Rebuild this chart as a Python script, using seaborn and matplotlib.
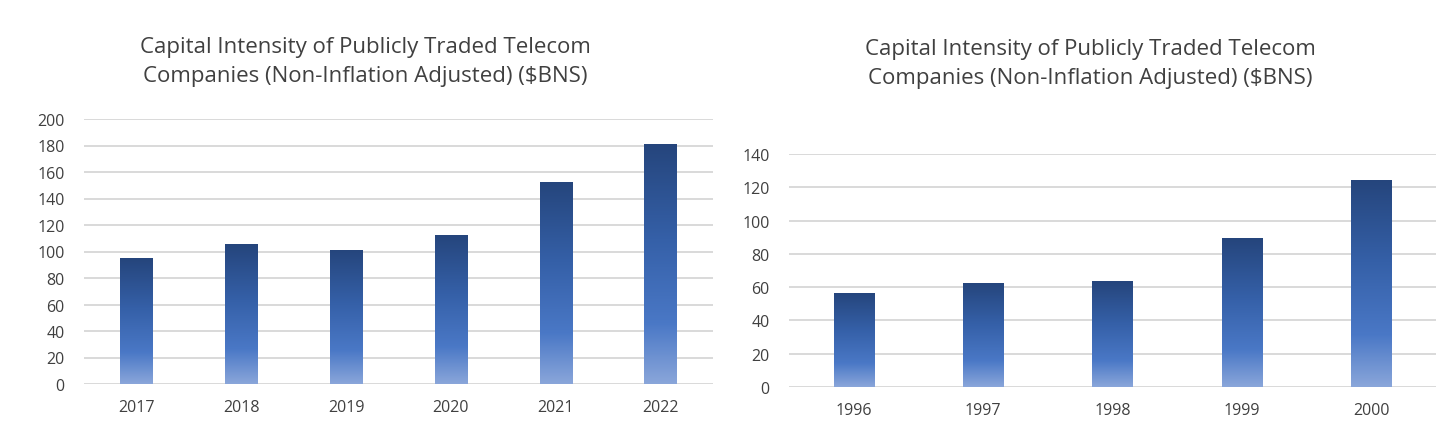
import matplotlib
matplotlib.use("Agg")
import matplotlib.pyplot as plt
import numpy as np
import seaborn as sns
from matplotlib.colors import LinearSegmentedColormap

TITLE = "Capital Intensity of Publicly Traded Telecom\nCompanies (Non-Inflation Adjusted) ($BNS)"

years_recent = ["2017", "2018", "2019", "2020", "2021", "2022"]
capex_recent = [95, 105.5, 101.5, 112.5, 152.5, 181.5]

years_dotcom = ["1996", "1997", "1998", "1999", "2000"]
capex_dotcom = [56.5, 62.5, 63.5, 89.5, 124.5]

GRADIENT = LinearSegmentedColormap.from_list(
    "bar_grad", [(0.0, "#8aa6da"), (0.25, "#4a78c6"), (0.6, "#3560a8"), (1.0, "#25457c")]
)
GRID = "#d9d9d9"
TEXT = "#404040"


def draw_panel(ax, years, values, ymax, step):
    sns.barplot(x=years, y=values, ax=ax, color="#4472c4", width=0.31, saturation=1)
    grad = np.linspace(0, 1, 256).reshape(-1, 1)
    for patch in ax.patches:
        x0, y0 = patch.get_x(), patch.get_y()
        w, h = patch.get_width(), patch.get_height()
        im = ax.imshow(grad, cmap=GRADIENT, origin="lower", aspect="auto",
                       extent=(x0, x0 + w, y0, y0 + h), zorder=3)
        im.set_clip_path(patch)
        patch.set_facecolor("none")
        patch.set_edgecolor("none")
    ax.set_xlim(-0.5, len(years) - 0.5)
    ax.set_ylim(0, ymax)
    ax.set_yticks(np.arange(0, ymax + 1, step))
    ax.yaxis.grid(True, color=GRID, linewidth=1.4)
    ax.xaxis.grid(False)
    ax.set_axisbelow(True)
    for side in ["top", "right", "left", "bottom"]:
        ax.spines[side].set_visible(False)
    ax.tick_params(axis="both", length=0, labelsize=11.5, colors=TEXT)
    ax.tick_params(axis="y", pad=14)
    ax.tick_params(axis="x", pad=11)
    ax.set_xlabel("")
    ax.set_ylabel("")


sns.set_theme(style="white")
plt.rcParams["font.family"] = ["Open Sans", "DejaVu Sans"]

fig = plt.figure(figsize=(14.56, 4.39), dpi=100)
ax_left = fig.add_axes([84 / 1456, 54 / 439, 629 / 1456, 265 / 439])
ax_right = fig.add_axes([789 / 1456, 51 / 439, 647 / 1456, 233 / 439])

draw_panel(ax_left, years_recent, capex_recent, 200, 20)
draw_panel(ax_right, years_dotcom, capex_dotcom, 140, 20)

fig.text(365 / 1456, 1 - 62 / 439, TITLE, ha="center", va="center",
         fontsize=16, color=TEXT, linespacing=1.5)
fig.text(1090 / 1456, 1 - 64 / 439, TITLE, ha="center", va="center",
         fontsize=16, color=TEXT, linespacing=1.5)

fig.savefig("out.png", dpi=100, facecolor="white")
